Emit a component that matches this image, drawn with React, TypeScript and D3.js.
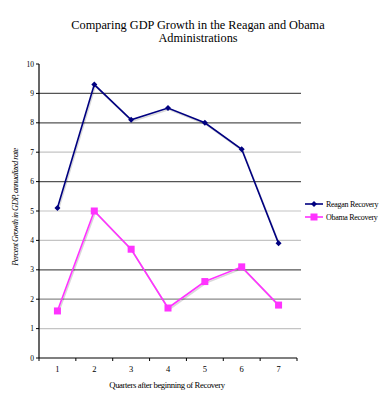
import React from "react";
import * as d3 from "d3";

// values
const quarters = ["1", "2", "3", "4", "5", "6", "7"];
const reaganRecovery = [5.1, 9.3, 8.1, 8.5, 8.0, 7.1, 3.9];
const obamaRecovery = [1.6, 5.0, 3.7, 1.7, 2.6, 3.1, 1.8];
const yTicks = [0, 1, 2, 3, 4, 5, 6, 7, 8, 9, 10];
const gridShades = ["", "#c4c4c4", "#8a8a8a", "#555", "#c4c4c4", "#c4c4c4", "#555", "#c4c4c4", "#555", "#555", ""];

const W = 389, H = 400;
const font = "Liberation Serif";

export default function App() {
  const left = 39, right = 297, top = 64, bottom = 358;

  const x = d3.scaleBand().domain(quarters).range([left, right]);
  const y = d3.scaleLinear().domain([0, 10]).range([bottom, top]);
  const cx = (q: string) => (x(q) as number) + x.bandwidth() / 2;

  const line = d3.line<number>()
    .x((_, i) => cx(quarters[i]))
    .y((d) => y(d));

  // diamond = square rotated 45deg
  const diamond = d3.symbol(d3.symbolSquare, 18)();

  return (
    <svg width={W} height={H} style={{ position: "absolute", left: 0, top: 0, background: "#fff" }}>
      <text x={198} y={29} textAnchor="middle" fontFamily={font} fontSize={12.3}>
        Comparing GDP Growth in the Reagan and Obama
      </text>
      <text x={198} y={42} textAnchor="middle" fontFamily={font} fontSize={12.3}>
        Administrations
      </text>

      {/* grid */}
      {yTicks.filter((t) => t > 0 && t < 10).map((t) => (
        <line key={t} x1={left} x2={right + 4} y1={y(t)} y2={y(t)} stroke={gridShades[t]} strokeWidth={1.2} />
      ))}

      {/* y axis */}
      <line x1={left} x2={left} y1={top} y2={bottom} stroke="#000" strokeWidth={1.2} />
      {yTicks.map((t) => (
        <g key={t}>
          <line x1={left - 3} x2={left} y1={y(t)} y2={y(t)} stroke="#000" />
          <text x={left - 5} y={y(t) + 2.5} textAnchor="end" fontFamily={font} fontSize={7.5}>{t}</text>
        </g>
      ))}

      {/* x axis */}
      <line x1={left} x2={right} y1={bottom} y2={bottom} stroke="#000" strokeWidth={1.2} />
      {quarters.concat([""]).map((q, i) => {
        const xp = left + i * x.step();
        return <line key={"t" + i} x1={xp} x2={xp} y1={bottom} y2={bottom + 3} stroke="#000" />;
      })}
      {quarters.map((q) => (
        <text key={q} x={cx(q)} y={372} textAnchor="middle" fontFamily={font} fontSize={8.5}>{q}</text>
      ))}
      <text x={167} y={388} textAnchor="middle" fontFamily={font} fontSize={8.7} letterSpacing={-0.4}>
        Quarters after beginning of Recovery
      </text>
      <text transform="translate(18,207) rotate(-90)" textAnchor="middle" fontFamily={font} fontSize={8.5}
        fontStyle="italic" letterSpacing={-0.55}>
        Percent Growth in GDP, annualized rate
      </text>

      {/* shadows */}
      <path d={line(reaganRecovery) || ""} transform="translate(1,1.5)" fill="none" stroke="#000" strokeOpacity={0.15} strokeWidth={1.6} />
      <path d={line(obamaRecovery) || ""} transform="translate(1,1.5)" fill="none" stroke="#000" strokeOpacity={0.15} strokeWidth={1.6} />

      {/* series */}
      <path d={line(reaganRecovery) || ""} fill="none" stroke="#000080" strokeWidth={1.6} />
      {reaganRecovery.map((v, i) => (
        <path key={"r" + i} d={diamond || ""} transform={`translate(${cx(quarters[i])},${y(v)}) rotate(45)`} fill="#000080" />
      ))}
      <path d={line(obamaRecovery) || ""} fill="none" stroke="#ff33ff" strokeWidth={1.6} />
      {obamaRecovery.map((v, i) => (
        <rect key={"o" + i} x={cx(quarters[i]) - 3.5} y={y(v) - 3.5} width={7} height={7} fill="#ff33ff" />
      ))}

      {/* legend */}
      <line x1={305} x2={323} y1={204} y2={204} stroke="#000080" strokeWidth={1.6} />
      <path d={diamond || ""} transform="translate(314,204) rotate(45)" fill="#000080" />
      <text x={326} y={207} fontFamily={font} fontSize={8} letterSpacing={-0.3}>Reagan Recovery</text>
      <line x1={305} x2={323} y1={217} y2={217} stroke="#ff33ff" strokeWidth={1.6} />
      <rect x={310.5} y={213.5} width={7} height={7} fill="#ff33ff" />
      <text x={326} y={220} fontFamily={font} fontSize={8} letterSpacing={-0.3}>Obama Recovery</text>
    </svg>
  );
}
